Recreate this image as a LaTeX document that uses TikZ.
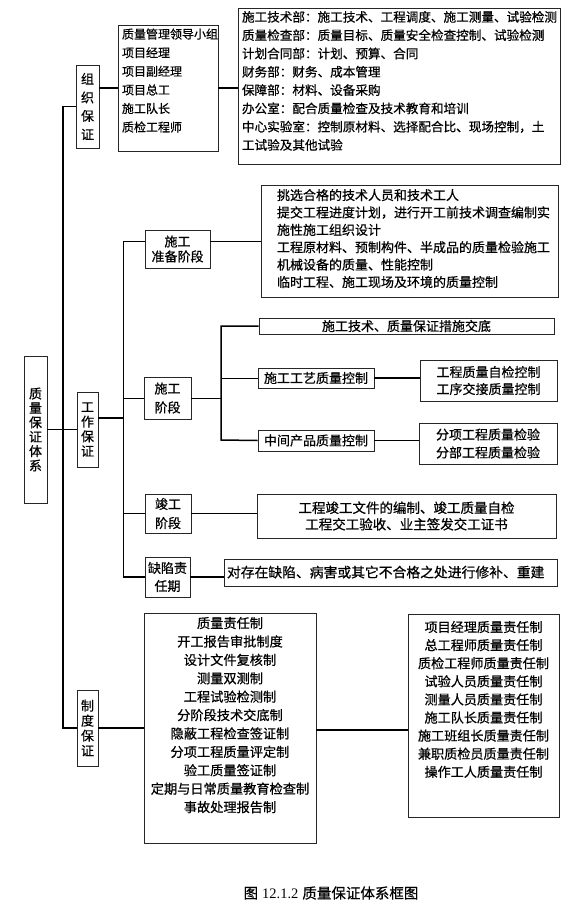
\documentclass[tikz,border=0pt]{standalone}
\usepackage{fontspec}
\newfontfamily\cjk{Noto Sans CJK SC}[FakeBold=0.6]
\newfontfamily\numf{Liberation Serif}
\newcommand\lbx[5]{\parbox[c][#2][t]{#1}{\raggedright\leftskip=#4\relax\vspace*{#3}#5\par}}
\newcommand\cbx[4]{\parbox[c][#2][t]{#1}{\centering\vspace*{#3}#4\par}}
\tikzset{
  fr/.style={draw=black!85, line width=0.8pt, inner sep=0pt},
  bx/.style 2 args={fr, minimum width=#1, minimum height=#2, align=center},
  thinln/.style={line width=0.8pt},
  thickln/.style={line width=1.5pt},
  mainln/.style={line width=1.3pt},
  fs/.style 2 args={font=\cjk\fontsize{#1}{#2}\selectfont},
}
\begin{document}
\begin{tikzpicture}[x=1pt,y=-1pt]
\fill[white] (0,0) rectangle (577,918);
\useasboundingbox (0,0) rectangle (577,918);

% organisation
\node[bx={23pt}{83pt}, fs={13}{18.5}] (zz) at (87.5,106.5) {组\\织\\保\\证};
\node[fr, fs={12}{18.6}] (ld) at (168,88) {\lbx{100pt}{126pt}{3.5pt}{4pt}{质量管理领导小组\\项目经理\\项目副经理\\项目总工\\施工队长\\质检工程师}};
\node[fr, fs={12.6}{18.3}] (dp) at (399,86) {\lbx{322pt}{156pt}{3pt}{4pt}{施工技术部：施工技术、工程调度、施工测量、试验检测\\质量检查部：质量目标、质量安全检查控制、试验检测\\计划合同部：计划、预算、合同\\财务部：财务、成本管理\\保障部：材料、设备采购\\办公室：配合质量检查及技术教育和培训\\中心实验室：控制原材料、选择配合比、现场控制，土\\工试验及其他试验}};

% root and level 1
\node[bx={23pt}{147pt}, fs={13}{14.4}] (root) at (35.5,429.5) {质\\量\\保\\证\\体\\系};
\node[bx={21pt}{75pt}, fs={13}{14.7}] (gz) at (87.5,429.5) {工\\作\\保\\证};
\node[bx={21pt}{76pt}, fs={13}{15}] (zd) at (87.5,728) {制\\度\\保\\证};

% work stages
\node[bx={65pt}{38pt}, fs={13}{15}] (zb) at (177.5,249) {施工\\准备阶段};
\node[fr, fs={13}{17.4}] (zbr) at (409.5,241) {\lbx{297pt}{112pt}{4pt}{16pt}{挑选合格的技术人员和技术工人\\提交工程进度计划，进行开工前技术调查编制实\\施性施工组织设计\\工程原材料、预制构件、半成品的质量检验施工\\机械设备的质量、性能控制\\临时工程、施工现场及环境的质量控制}};

\node[bx={47pt}{42pt}, fs={13}{19}] (sg) at (167.5,398) {施工\\阶段};
\node[bx={295pt}{16pt}, fs={13}{15}] (jd) at (406.5,326) {施工技术、质量保证措施交底};
\node[bx={116pt}{20pt}, fs={13}{15}] (gy) at (316,378) {施工工艺质量控制};
\node[bx={137pt}{41pt}, fs={13}{17}] (zj) at (488.5,380.5) {工程质量自检控制\\工序交接质量控制};
\node[bx={116pt}{21pt}, fs={13}{15}] (zc) at (316,440.5) {中间产品质量控制};
\node[bx={138pt}{41pt}, fs={13}{18}] (fx) at (488,443.5) {分项工程质量检验\\分部工程质量检验};

\node[bx={46pt}{39pt}, fs={13}{19}] (jg) at (168,513.5) {竣工\\阶段};
\node[bx={299pt}{44pt}, fs={13.5}{16.5}] (jgr) at (406.5,516) {工程竣工文件的编制、竣工质量自检\\工程交工验收、业主签发交工证书};

\node[bx={45pt}{40pt}, fs={13}{18}] (qx) at (167.5,577) {缺陷责\\任期};
\node[fr, fs={13.8}{16}] (qxr) at (390.5,572.5) {\lbx{333pt}{27pt}{6.7pt}{3pt}{对存在缺陷、病害或其它不合格之处进行修补、重建}};

% systems
\node[fr, fs={13.2}{18.4}] (zdm) at (230,728) {\cbx{172pt}{230pt}{4pt}{质量责任制\\开工报告审批制度\\设计文件复核制\\测量双测制\\工程试验检测制\\分阶段技术交底制\\隐蔽工程检查签证制\\分项工程质量评定制\\验工质量签证制\\定期与日常质量教育检查制\\事故处理报告制}};
\node[fr, fs={13.1}{18.1}] (zdr) at (483.5,715.5) {\cbx{151pt}{203pt}{7pt}{项目经理质量责任制\\总工程师质量责任制\\质检工程师质量责任制\\试验人员质量责任制\\测量人员质量责任制\\施工队长质量责任制\\施工班组长质量责任制\\兼职质检员质量责任制\\操作工人质量责任制}};

% caption
\node[inner sep=0pt, font=\fontsize{14.5}{16}\selectfont] (cap) at (331,893) {{\cjk 图}\hspace{4pt}{\numf 12.1.2}\hspace{4pt}{\cjk 质量保证体系框图}};

% junction coordinates
\coordinate (mvb) at (63,728);
\coordinate (svt) at (123,242);
\coordinate (svb) at (123,577);
\coordinate (tvt) at (221,324);
\coordinate (tvb) at (221,440);

% connectors
\draw[mainln] (zz.west) -| (mvb) -- (zd.west);
\draw[thickln] ([yshift=18.5pt]zz.east) -- (ld.west);
\draw[thickln] (ld.east) -- (ld.east -| dp.west);
\draw[thinln] (root.east) -- (gz.west);
\draw[thickln] ([yshift=11.5pt]gz.east) coordinate (g1) -- (g1 -| svt);
\draw[thinln] (zb.west |- zbr.west) -| (svb);
\draw[thinln] (zb.east |- zbr.west) -- (zbr.west);
\draw[thinln] (sg.west) -- (sg.west -| svt);
\draw[thinln] (sg.east) -- (sg.east -| tvt);
\draw[thickln] (jd.west) -| (tvb) -- (zc.west);
\draw[thinln] (gy.west) -- (gy.west -| tvb);
\draw[thickln] (gy.east) -- (gy.east -| zj.west);
\draw[thinln] (zc.east) -- (zc.east -| fx.west);
\draw[thickln] (jg.west) -- (jg.west -| svt);
\draw[thinln] (jg.east) -- (jg.east -| jgr.west);
\draw[thickln] (svb) -- (qx.west);
\draw[thickln] (qx.east) -- (qx.east -| qxr.west);
\draw[thickln] (zd.east) -- (zdm.west);
\draw[thickln] ([yshift=-2pt]zdm.east) coordinate (z1) -- (z1 -| zdr.west);
\end{tikzpicture}
\end{document}
